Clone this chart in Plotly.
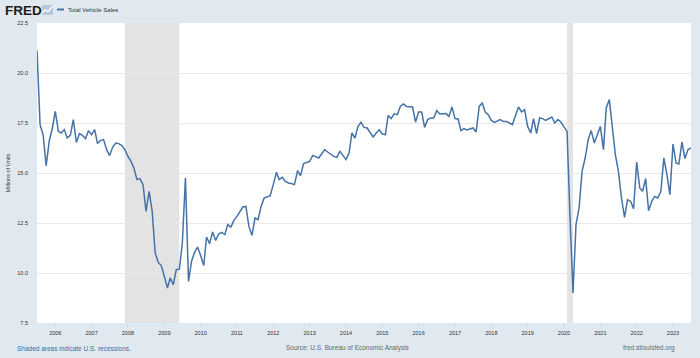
import pandas as pd
import plotly.graph_objects as go

# ---------------- data ----------------
start_month = "2005-07-01"
end_month = "2023-07-01"
dates = pd.date_range(start_month, end_month, freq="MS")

total_vehicle_sales = [
    21.13, 17.41, 16.90, 15.36, 16.60, 17.20,                       # 2005 Jul-Dec
    18.08, 17.08, 17.00, 17.17, 16.75, 16.88, 17.67, 16.53, 16.97, 16.88, 16.72, 17.12,  # 2006
    16.92, 17.17, 16.47, 16.63, 16.67, 16.17, 15.87, 16.30, 16.50, 16.47, 16.37, 16.17,  # 2007
    15.83, 15.58, 15.25, 14.67, 14.72, 14.42, 13.08, 14.08, 13.08, 11.00, 10.53, 10.37,  # 2008
    9.83, 9.25, 9.75, 9.42, 10.17, 10.20, 11.50, 14.75, 9.58, 10.58, 11.03, 11.30,      # 2009
    10.87, 10.37, 11.80, 11.47, 12.05, 11.63, 11.95, 12.03, 11.92, 12.42, 12.30, 12.63,  # 2010
    12.83, 13.08, 13.30, 13.33, 12.33, 11.88, 12.75, 12.67, 13.33, 13.75, 13.80, 13.87,  # 2011
    14.42, 15.03, 14.67, 14.78, 14.58, 14.50, 14.47, 14.42, 15.12, 14.87, 15.47, 15.53,  # 2012
    15.58, 15.88, 15.83, 15.75, 15.95, 16.17, 16.05, 15.92, 15.83, 15.78, 16.08, 15.88,  # 2013
    15.67, 16.00, 17.00, 16.75, 17.33, 17.53, 17.28, 17.25, 17.05, 16.80, 17.00, 17.17,  # 2014
    16.95, 16.92, 17.88, 17.72, 17.97, 17.92, 18.33, 18.45, 18.33, 18.30, 18.30, 17.55,  # 2015
    18.05, 18.05, 17.28, 17.67, 17.75, 17.75, 18.12, 17.95, 17.97, 17.97, 17.83, 18.30,  # 2016
    17.72, 17.70, 17.12, 17.22, 17.15, 17.20, 17.25, 17.05, 18.33, 18.50, 18.05, 17.92,  # 2017
    17.63, 17.53, 17.58, 17.67, 17.58, 17.58, 17.50, 17.42, 17.87, 18.30, 18.05, 18.17,  # 2018
    17.33, 17.00, 17.72, 16.97, 17.75, 17.72, 17.63, 17.72, 17.80, 17.50, 17.67, 17.55,  # 2019
    17.33, 17.08, 12.90, 9.00, 12.42, 13.25, 15.08, 15.75, 16.67, 17.12, 16.50, 16.92,   # 2020
    17.33, 16.17, 18.25, 18.67, 17.17, 15.90, 15.10, 13.75, 12.78, 13.67, 13.58, 13.22,  # 2021
    15.55, 14.25, 14.08, 14.72, 13.12, 13.58, 13.83, 13.75, 14.08, 15.75, 14.92, 13.92,  # 2022
    16.45, 15.50, 15.45, 16.55, 15.72, 16.17, 16.25,                                     # 2023 Jan-Jul
]

recession_starts = ["2007-12-01", "2020-02-01"]
recession_ends = ["2009-06-01", "2020-04-01"]

year_ticks = list(range(2006, 2024))
x_tick_vals = [f"{y}-01-01" for y in year_ticks]
x_tick_text = [str(y) for y in year_ticks]

y_tick_vals = [7.5, 10.0, 12.5, 15.0, 17.5, 20.0, 22.5]
y_tick_text = ["7.5", "10.0", "12.5", "15.0", "17.5", "20.0", "22.5"]

series_name = "Total Vehicle Sales"

# ---------------- styling ----------------
W, H = 700, 358
ML, MR, MT, MB = 37, 9, 23, 35
PW, PH = W - ML - MR, H - MT - MB
LINE_COLOR = "#4572a7"
BG = "#e1e9f0"
FONT = "Liberation Sans, Arial, sans-serif"


def px_x(px):
    return (px - ML) / PW


def px_y(py):
    return (H - MB - py) / PH


fig = go.Figure()
fig.add_trace(go.Scatter(
    x=dates, y=total_vehicle_sales, mode="lines", name=series_name,
    line=dict(color=LINE_COLOR, width=1.5), showlegend=False,
))

shapes = []
for s, e in zip(recession_starts, recession_ends):
    shapes.append(dict(type="rect", xref="x", yref="paper", x0=s, x1=e, y0=0, y1=1,
                       fillcolor="#e3e3e3", line=dict(width=0), layer="below"))

# legend swatch
shapes.append(dict(type="line", xref="paper", yref="paper",
                   x0=px_x(57), x1=px_x(64), y0=px_y(9.5), y1=px_y(9.5),
                   line=dict(color=LINE_COLOR, width=2)))
# small FRED icon
shapes.append(dict(type="rect", xref="paper", yref="paper",
                   x0=px_x(42), x1=px_x(53), y0=px_y(15), y1=px_y(5),
                   fillcolor="#b7c9de", line=dict(width=0)))
shapes.append(dict(type="path", xref="paper", yref="paper",
                   path=(f"M {px_x(42)},{px_y(13)} L {px_x(45)},{px_y(10)} L {px_x(48)},{px_y(11.5)} "
                         f"L {px_x(53)},{px_y(6)}"),
                   line=dict(color="#ffffff", width=1.2)))

annotations = [
    dict(text="<b>FRED</b>", x=px_x(3), y=px_y(10), xref="paper", yref="paper",
         xanchor="left", yanchor="middle", showarrow=False,
         font=dict(family=FONT, size=13.5, color="#1e1e1e")),
    dict(text=series_name, x=px_x(66), y=px_y(9.5), xref="paper", yref="paper",
         xanchor="left", yanchor="middle", showarrow=False,
         font=dict(family=FONT, size=6, color="#333333")),
    dict(text="Shaded areas indicate U.S. recessions.", x=px_x(15), y=px_y(348),
         xref="paper", yref="paper", xanchor="left", yanchor="middle", showarrow=False,
         font=dict(family=FONT, size=6.5, color="#3b6aa8")),
    dict(text="Source: U.S. Bureau of Economic Analysis", x=px_x(348), y=px_y(348),
         xref="paper", yref="paper", xanchor="center", yanchor="middle", showarrow=False,
         font=dict(family=FONT, size=6.5, color="#666666")),
    dict(text="fred.stlouisfed.org", x=px_x(677), y=px_y(348),
         xref="paper", yref="paper", xanchor="right", yanchor="middle", showarrow=False,
         font=dict(family=FONT, size=6.5, color="#666666")),
]

fig.update_layout(
    width=W, height=H,
    margin=dict(l=ML, r=MR, t=MT, b=MB, pad=0, autoexpand=False),
    paper_bgcolor=BG, plot_bgcolor="#ffffff",
    font=dict(family=FONT, color="#333333"),
    shapes=shapes, annotations=annotations, showlegend=False,
    xaxis=dict(type="date", range=[start_month, end_month], automargin=False,
               tickvals=x_tick_vals, ticktext=x_tick_text,
               tickfont=dict(size=5.5, color="#333333"),
               showgrid=False, zeroline=False, showline=False,
               ticks="outside", ticklen=3, tickcolor="#ccd6eb", ticklabelstandoff=1),
    yaxis=dict(range=[7.5, 22.5], tickvals=y_tick_vals, ticktext=y_tick_text, automargin=False,
               tickfont=dict(size=5.5, color="#333333"),
               showgrid=True, gridcolor="#e8e8e8", gridwidth=1,
               zeroline=False, showline=False, ticks="", ticklabelstandoff=8,
               title=dict(text="Millions of Units", font=dict(size=5.5, color="#333333"),
                          standoff=6)),
)

fig.write_html("out.html", config={"displayModeBar": False},
               post_script="document.body.style.margin='0';document.body.style.overflow='hidden';")
